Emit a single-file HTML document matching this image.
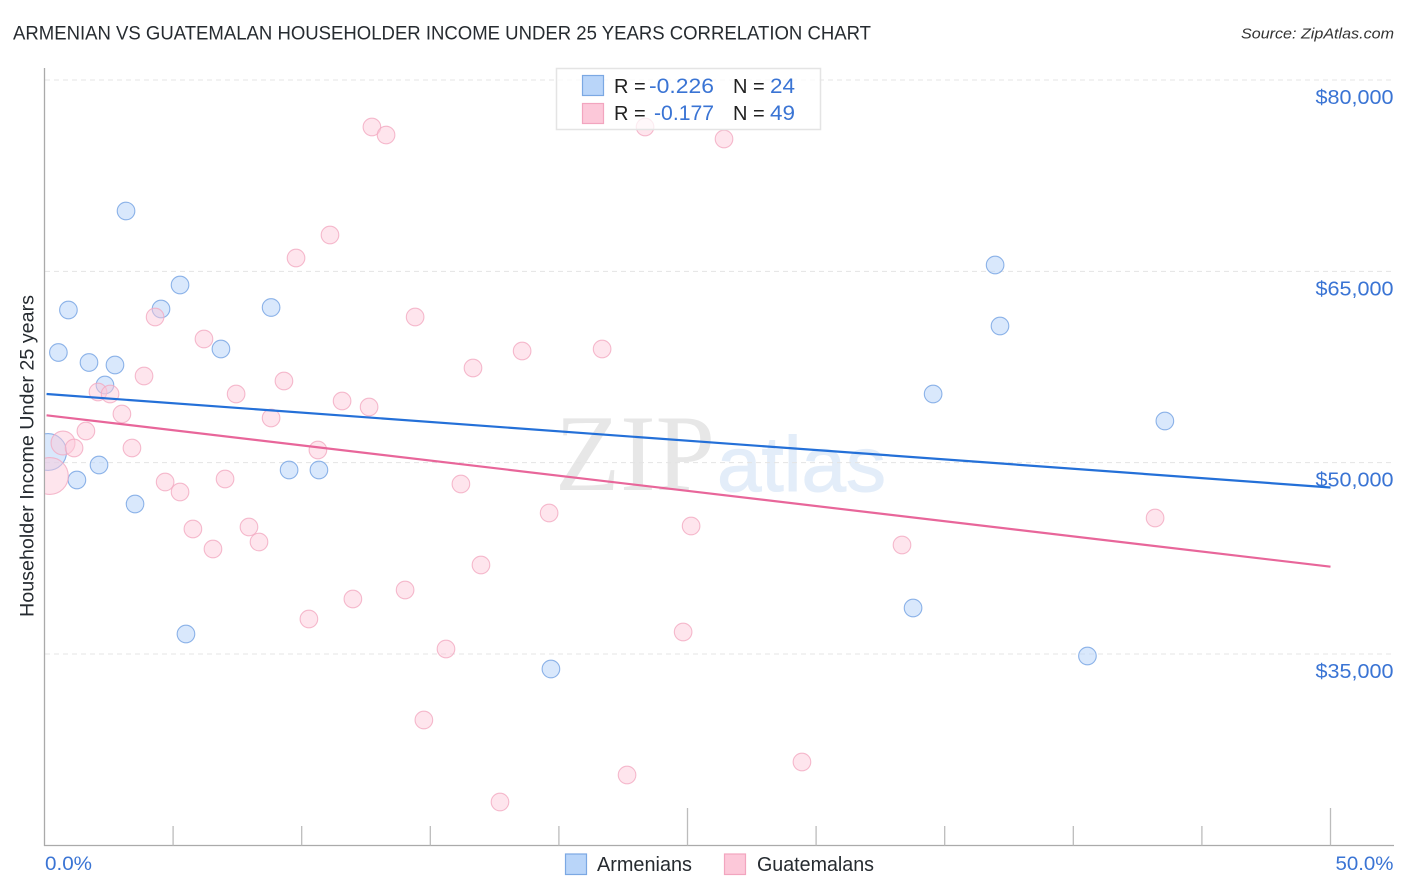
<!DOCTYPE html>
<html>
<head>
<meta charset="utf-8">
<title>Armenian vs Guatemalan Householder Income Under 25 Years Correlation Chart</title>
<style>
html,body{margin:0;padding:0;background:#fff;width:1406px;height:892px;overflow:hidden}
svg{display:block;font-family:"Liberation Sans",sans-serif}
</style>
</head>
<body>
<svg id="chart" xmlns="http://www.w3.org/2000/svg" width="1406" height="892" viewBox="0 0 1406 892">
  <defs><clipPath id="plot-clip"><rect x="45" y="60" width="1350" height="785"/></clipPath></defs>
  <text x="13" y="39.500" font-size="19.500" fill="#262b30" textLength="858" lengthAdjust="spacingAndGlyphs">ARMENIAN VS GUATEMALAN HOUSEHOLDER INCOME UNDER 25 YEARS CORRELATION CHART</text>
  <text x="1394" y="38.500" font-size="15" font-style="italic" fill="#333" text-anchor="end" textLength="153" lengthAdjust="spacingAndGlyphs">Source: ZipAtlas.com</text>
  <g id="watermark">
    <text x="555" y="490" font-family="'Liberation Serif',serif" font-size="109" fill="#e7e7e7" textLength="160" lengthAdjust="spacingAndGlyphs">ZIP</text>
    <text x="717" y="491" font-size="78" fill="#e3edf9" stroke="#e3edf9" stroke-width="1" textLength="169" lengthAdjust="spacingAndGlyphs">atlas</text>
  </g>
  <g id="grid"></g>
  <g id="axes"></g>
  <g id="points" clip-path="url(#plot-clip)"></g>
  <g id="trends"></g>
  <text transform="translate(33.500,456) rotate(-90)" font-size="19" fill="#262b30" text-anchor="middle" textLength="322" lengthAdjust="spacingAndGlyphs">Householder Income Under 25 years</text>

  <g>
    <rect x="556.500" y="68.500" width="264" height="61" fill="#fff" fill-opacity="0.72" stroke="#e4e4e4" stroke-width="1.500"/>
    <rect x="582.500" y="75.500" width="21" height="20" fill="#b9d5f9" stroke="#7ba8e3" stroke-width="1.200"/>
    <rect x="582.500" y="103.500" width="21" height="20" fill="#fcc8d9" stroke="#f2a5bf" stroke-width="1.200"/>
    <text x="614" y="93" font-size="20" fill="#222">R =</text>
    <text x="649" y="93" font-size="21" fill="#3a74d4" textLength="65" lengthAdjust="spacingAndGlyphs">-0.226</text>
    <text x="733" y="93" font-size="20" fill="#222">N =</text>
    <text x="770" y="93" font-size="21" fill="#3a74d4" textLength="25" lengthAdjust="spacingAndGlyphs">24</text>
    <text x="614" y="120" font-size="20" fill="#222">R =</text>
    <text x="654" y="120" font-size="21" fill="#3a74d4" textLength="60" lengthAdjust="spacingAndGlyphs">-0.177</text>
    <text x="733" y="120" font-size="20" fill="#222">N =</text>
    <text x="770" y="120" font-size="21" fill="#3a74d4" textLength="25" lengthAdjust="spacingAndGlyphs">49</text>
  </g>

  <g>
    <rect x="565.500" y="854" width="21" height="20.500" fill="#b9d5f9" stroke="#7ba8e3" stroke-width="1.200"/>
    <text x="597" y="871" font-size="20" fill="#262b30" textLength="95" lengthAdjust="spacingAndGlyphs">Armenians</text>
    <rect x="724.500" y="854" width="21" height="20.500" fill="#fcc8d9" stroke="#f2a5bf" stroke-width="1.200"/>
    <text x="757" y="871" font-size="20" fill="#262b30" textLength="117" lengthAdjust="spacingAndGlyphs">Guatemalans</text>
  </g>
</svg>
<script>
// Chart data (x: percent, y: dollars, r: marker radius in the original weighting)
const yTickValues = [80000, 65000, 50000, 35000];
const yTickLabels = ["$80,000", "$65,000", "$50,000", "$35,000"];
const xTickValues = [0, 5, 10, 15, 20, 25, 30, 35, 40, 45, 50];
const xMajorTicks = [25, 50];
const xEndLabels = ["0.0%", "50.0%"];

const armenianX = [3.17, 5.27, 0.93, 4.53, 8.81, 6.86, 0.54, 1.73, 2.74, 2.35, 36.96, 37.15, 43.56, 34.55, 2.12, 1.26, 3.52, 9.51, 10.67, 5.50, 19.69, 33.77, 40.55, 0.14];
const armenianY = [69731, 63930, 61970, 62048, 62166, 58912, 58638, 57854, 57658, 56090, 65498, 60715, 53267, 55384, 49818, 48642, 46760, 49426, 49426, 36568, 33824, 38606, 34843, 50837];
const armenianWeight = [1, 1, 1, 1, 1, 1, 1, 1, 1, 1, 1, 1, 1, 1, 1, 1, 1, 1, 1, 1, 1, 1, 1, 2];

const guatemalanX = [12.73, 13.28, 23.35, 26.42, 11.10, 9.78, 4.30, 14.41, 6.20, 18.57, 21.68, 16.66, 3.87, 9.31, 2.08, 2.55, 7.45, 3.01, 11.57, 12.62, 8.81, 1.61, 0.72, 1.15, 3.40, 10.63, 4.69, 5.27, 7.02, 16.19, 19.62, 43.18, 5.77, 7.95, 25.14, 8.34, 6.55, 33.34, 16.97, 11.99, 14.02, 10.28, 24.83, 15.61, 14.75, 22.65, 29.45, 17.71, 0.21];
const guatemalanY = [76317, 75690, 76317, 75376, 67850, 66046, 61421, 61421, 59696, 58755, 58912, 57422, 56795, 56403, 55541, 55384, 55384, 53816, 54835, 54365, 53502, 52483, 51542, 51150, 51150, 50994, 48485, 47701, 48720, 48328, 46054, 45662, 44800, 44957, 45035, 43781, 43232, 43546, 41978, 39312, 40018, 37744, 36725, 35392, 29826, 25514, 26533, 23397, 48955];
const guatemalanWeight = [1, 1, 1, 1, 1, 1, 1, 1, 1, 1, 1, 1, 1, 1, 1, 1, 1, 1, 1, 1, 1, 1, 1.3, 1, 1, 1, 1, 1, 1, 1, 1, 1, 1, 1, 1, 1, 1, 1, 1, 1, 1, 1, 1, 1, 1, 1, 1, 1, 2];

const armenianTrendX = [0.08, 50];
const armenianTrendY = [55384, 48054];
const guatemalanTrendX = [0.08, 50];
const guatemalanTrendY = [53714, 41844];

// Axis functions
function xScale(v) { return 44.5 + v * 25.72; }
function yScale(v) { return 654 - (v - 35000) * 191.33 / 15000; }
function radiusFor(w) { return w === 1 ? 8.8 : w * 9.2; }

const NS = 'http://www.w3.org/2000/svg';
function mk(parent, tag, attrs, text) {
  const el = document.createElementNS(NS, tag);
  for (const k in attrs) el.setAttribute(k, attrs[k]);
  if (text !== undefined) el.textContent = text;
  document.getElementById(parent).appendChild(el);
  return el;
}

// Gridlines and y labels
yTickValues.forEach(function (v, i) {
  const line = mk('grid', 'line', { x1: 45, x2: 1394, y1: yScale(v), y2: yScale(v), stroke: '#e4e4e4', 'stroke-width': 1, 'stroke-dasharray': '5 4' });
  
  
  const lab = mk('axes', 'text', { x: 1393.5, y: yScale(v) + 24, 'font-size': 20, fill: '#3a74d4', 'text-anchor': 'end', textLength: 78, lengthAdjust: 'spacingAndGlyphs' }, yTickLabels[i]);
  
  
});

// Axis lines
const yAxis = mk('axes', 'line', { x1: 44.5, x2: 44.5, y1: 68, y2: 846, stroke: '#aaa', 'stroke-width': 1.300 });


const xAxis = mk('axes', 'line', { x1: 44, x2: 1394, y1: 845.5, y2: 845.5, stroke: '#aaa', 'stroke-width': 1.300 });



// X ticks
xTickValues.forEach(function (v) {
  if (v === 0) return;
  const top = xMajorTicks.indexOf(v) >= 0 ? 808 : 826;
  const tick = mk('axes', 'line', { x1: xScale(v), x2: xScale(v), y1: top, y2: 845.5, stroke: '#bcbcbc', 'stroke-width': 1.300 });
  
  
});
const xLabelStart = mk('axes', 'text', { x: 45, y: 870, 'font-size': 19, fill: '#3a74d4', textLength: 47, lengthAdjust: 'spacingAndGlyphs' }, xEndLabels[0]);


const xLabelEnd = mk('axes', 'text', { x: 1393.5, y: 870, 'font-size': 19, fill: '#3a74d4', 'text-anchor': 'end', textLength: 58, lengthAdjust: 'spacingAndGlyphs' }, xEndLabels[1]);



// Points
armenianX.forEach(function (x, i) {
  const c = mk('points', 'circle', { cx: xScale(x), cy: yScale(armenianY[i]), r: radiusFor(armenianWeight[i]), fill: '#b9d5f9', 'fill-opacity': 0.55, stroke: '#79a6e4', 'stroke-opacity': 0.85, 'stroke-width': 1.100 });
  
  
});
guatemalanX.forEach(function (x, i) {
  const c = mk('points', 'circle', { cx: xScale(x), cy: yScale(guatemalanY[i]), r: radiusFor(guatemalanWeight[i]), fill: '#fcc8d9', 'fill-opacity': 0.48, stroke: '#f2a9c1', 'stroke-opacity': 0.8, 'stroke-width': 1.100 });
  
  
});

// Trend lines
const trendBlue = mk('trends', 'line', { x1: xScale(armenianTrendX[0]), y1: yScale(armenianTrendY[0]), x2: xScale(armenianTrendX[1]), y2: yScale(armenianTrendY[1]), stroke: '#2470d8', 'stroke-width': 2.200 });


const trendPink = mk('trends', 'line', { x1: xScale(guatemalanTrendX[0]), y1: yScale(guatemalanTrendY[0]), x2: xScale(guatemalanTrendX[1]), y2: yScale(guatemalanTrendY[1]), stroke: '#e8669a', 'stroke-width': 2.200 });


</script>
</body>
</html>
